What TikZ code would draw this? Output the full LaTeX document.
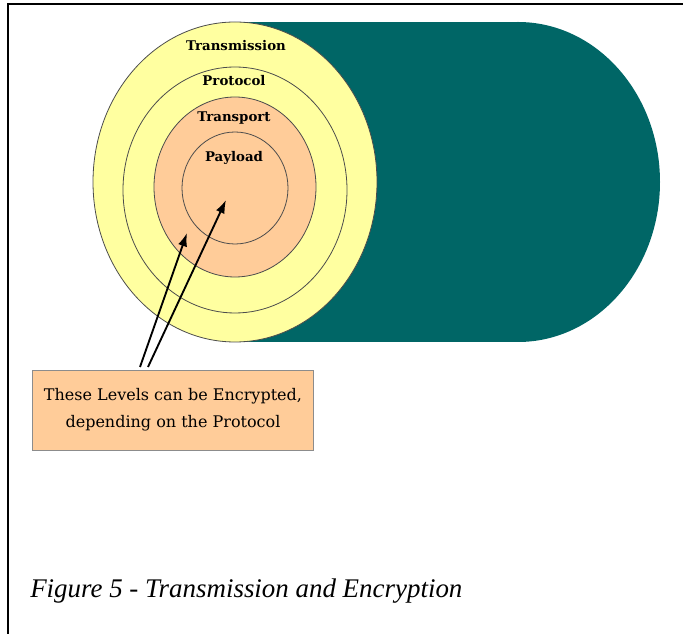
\documentclass[tikz,border=0pt]{standalone}
\usepackage{fontspec}
\setmainfont{DejaVu Serif}
\newfontfamily\capfont{Liberation Serif}
\usepackage{tikz}
\usetikzlibrary{shapes,arrows,arrows.meta,positioning}

\definecolor{Cable}{RGB}{0,102,102}
\definecolor{OuterLayer}{RGB}{255,255,160}
\definecolor{InnerLayer}{RGB}{255,204,153}

\begin{document}
\begin{tikzpicture}[x=0.75pt,y=-0.75pt]
		\tikzstyle{Layer}	= [draw=black!70, line width=0.6pt]
		\tikzstyle{Label}	= [font=\fontsize{10}{12}\selectfont\bfseries, inner sep=0pt]
		\tikzstyle{Note}	= [draw=black!45, fill=InnerLayer, line width=0.6pt, minimum width=211pt, minimum height=60pt, align=center, font=\fontsize{12}{20}\selectfont]
		\tikzstyle{Pointer}	= [-{Latex[length=10pt,width=7pt]}, line width=1.4pt]

		\useasboundingbox (0,0) rectangle (683,634);
		\draw [line width=1pt] (8,634) -- (8,4) -- (683,4);

		% the cable
		\fill [Cable] (235,22) rectangle (518,342);
		\fill [Cable] (518,182) ellipse [x radius=142, y radius=160];

		% layers, outside in
		\filldraw [Layer, fill=OuterLayer] (235,182) ellipse [x radius=142, y radius=160];
		\filldraw [Layer, fill=OuterLayer] (235,190) ellipse [x radius=112, y radius=123];
		\filldraw [Layer, fill=InnerLayer] (235,187) ellipse [x radius=81, y radius=90];
		\draw [Layer] (235,188) ellipse [x radius=53, y radius=56];

		\node (transmission) at (236,46) [Label] {Transmission};
		\node (protocol) at (234,81) [Label] {Protocol};
		\node (transport) at (234,118) [Label] {Transport};
		\node (payload) at (234,158) [Label] {Payload};

		\node (note) at (173,410) [Note] {These Levels can be Encrypted,\\depending on the Protocol};

		\coordinate (tailT) at (140,367);
		\coordinate (tailP) at (148,367);
		\coordinate (tipT) at (187,233);
		\coordinate (tipP) at (226,200);
		\draw [Pointer] (tailT) -- (tipT);
		\draw [Pointer] (tailP) -- (tipP);

		\node (caption) at (30,598) [anchor=base west, inner sep=0pt, font=\capfont\itshape\fontsize{20.2}{24}\selectfont] {Figure 5 - Transmission and Encryption};
\end{tikzpicture}
\end{document}
